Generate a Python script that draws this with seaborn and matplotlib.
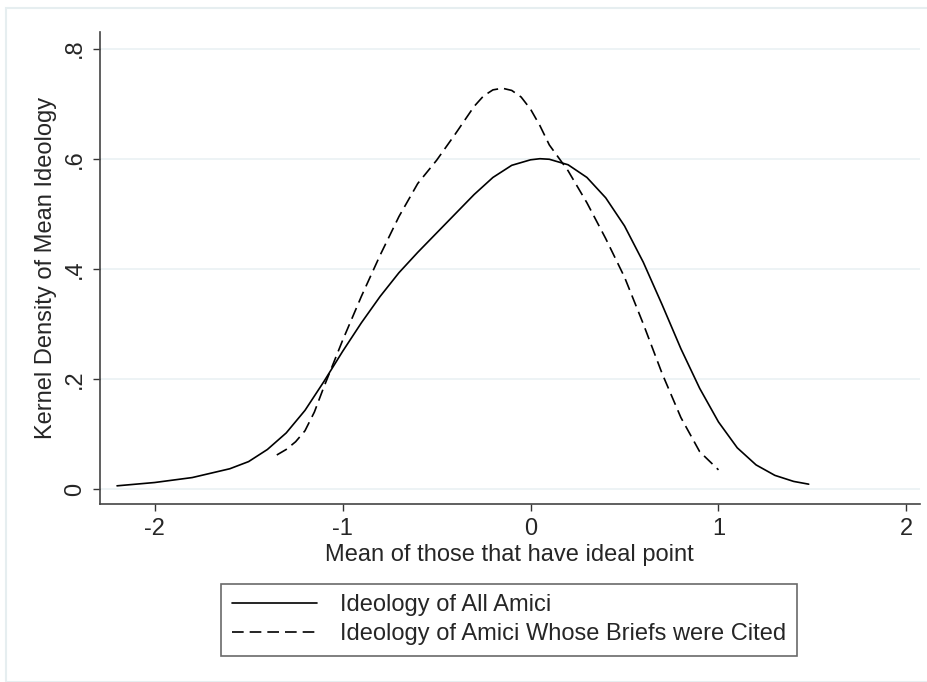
import pandas as pd
import seaborn as sns
import matplotlib.pyplot as plt
from matplotlib.patches import Rectangle

# Kernel density curves
all_x = [-2.2, -2.0, -1.8, -1.6, -1.5, -1.4, -1.3, -1.2, -1.1, -1.0, -0.9, -0.8,
         -0.7, -0.6, -0.5, -0.4, -0.3, -0.2, -0.1, 0.0, 0.05, 0.1, 0.2, 0.3, 0.4,
         0.5, 0.6, 0.7, 0.8, 0.9, 1.0, 1.1, 1.2, 1.3, 1.4, 1.48]
all_y = [0.006, 0.012, 0.021, 0.037, 0.050, 0.072, 0.102, 0.143, 0.195, 0.250,
         0.302, 0.350, 0.393, 0.430, 0.465, 0.500, 0.535, 0.566, 0.588, 0.598,
         0.600, 0.599, 0.589, 0.566, 0.529, 0.478, 0.412, 0.335, 0.255, 0.183,
         0.122, 0.075, 0.044, 0.025, 0.014, 0.009]

cited_x = [-1.35, -1.3, -1.25, -1.2, -1.15, -1.1, -1.0, -0.9, -0.8, -0.7, -0.6,
           -0.5, -0.4, -0.3, -0.25, -0.2, -0.15, -0.1, -0.05, 0.0, 0.05, 0.1,
           0.2, 0.3, 0.4, 0.5, 0.6, 0.7, 0.8, 0.9, 1.0]
cited_y = [0.062, 0.072, 0.086, 0.106, 0.140, 0.185, 0.270, 0.350, 0.425, 0.495,
           0.555, 0.597, 0.645, 0.695, 0.714, 0.725, 0.728, 0.724, 0.712, 0.690,
           0.660, 0.625, 0.578, 0.520, 0.455, 0.385, 0.300, 0.210, 0.130, 0.068,
           0.035]

labels = ["Ideology of All Amici", "Ideology of Amici Whose Briefs were Cited"]
x_ticks = [-2, -1, 0, 1, 2]
y_ticks = [0, 0.2, 0.4, 0.6, 0.8]
y_ticklabels = ["0", ".2", ".4", ".6", ".8"]

df = pd.concat([
    pd.DataFrame({"x": all_x, "y": all_y, "series": labels[0]}),
    pd.DataFrame({"x": cited_x, "y": cited_y, "series": labels[1]}),
])

sns.set_style("white")
plt.rcParams["font.family"] = ["Liberation Sans", "DejaVu Sans"]
fs = 17
dash = (7, 3.6)

fig = plt.figure(figsize=(9.27, 6.82), dpi=100)
ax = fig.add_axes([0.108, 0.261, 0.884, 0.692])

# light outer frame like the stata graph region
fig.patches.append(Rectangle((0.006, 0.0), 1.0, 0.988, transform=fig.transFigure,
                             fill=False, edgecolor="#e6eef0", lw=1.5))

sns.lineplot(data=df, x="x", y="y", style="series", color="black",
             dashes={labels[0]: "", labels[1]: dash}, linewidth=1.2,
             sort=False, estimator=None, ax=ax, legend=False)

ax.set_xlim(-2.29, 2.07)
ax.set_ylim(-0.027, 0.83)
ax.set_xticks(x_ticks)
ax.set_xticklabels([str(t) for t in x_ticks])
ax.set_yticks(y_ticks)
ax.set_yticklabels(y_ticklabels, rotation=90, va="center")
ax.tick_params(axis="both", direction="out", length=5, width=1, color="#333333",
               labelsize=fs, pad=5, left=True, bottom=True)
ax.grid(axis="y", color="#eaf1f3", linewidth=1.2)
ax.grid(axis="x", visible=False)
for s in ["top", "right"]:
    ax.spines[s].set_visible(False)
for s in ["left", "bottom"]:
    ax.spines[s].set_color("#444444")
    ax.spines[s].set_linewidth(1.2)

ax.set_xlabel("Mean of those that have ideal point", fontsize=fs, labelpad=3)
ax.set_ylabel("Kernel Density of Mean Ideology", fontsize=fs, labelpad=5)

handles = [plt.Line2D([], [], color="black", lw=1.2),
           plt.Line2D([], [], color="black", lw=1.2, dashes=dash)]
leg = fig.legend(handles, labels, loc="center", bbox_to_anchor=(0.549, 0.091),
                 fontsize=fs, frameon=True, fancybox=False, handlelength=3.6,
                 handletextpad=1.0, borderpad=0.45, labelspacing=0.3,
                 borderaxespad=0)
leg.get_frame().set_edgecolor("#444444")
leg.get_frame().set_linewidth(1.2)

fig.savefig("out.png", dpi=100)
